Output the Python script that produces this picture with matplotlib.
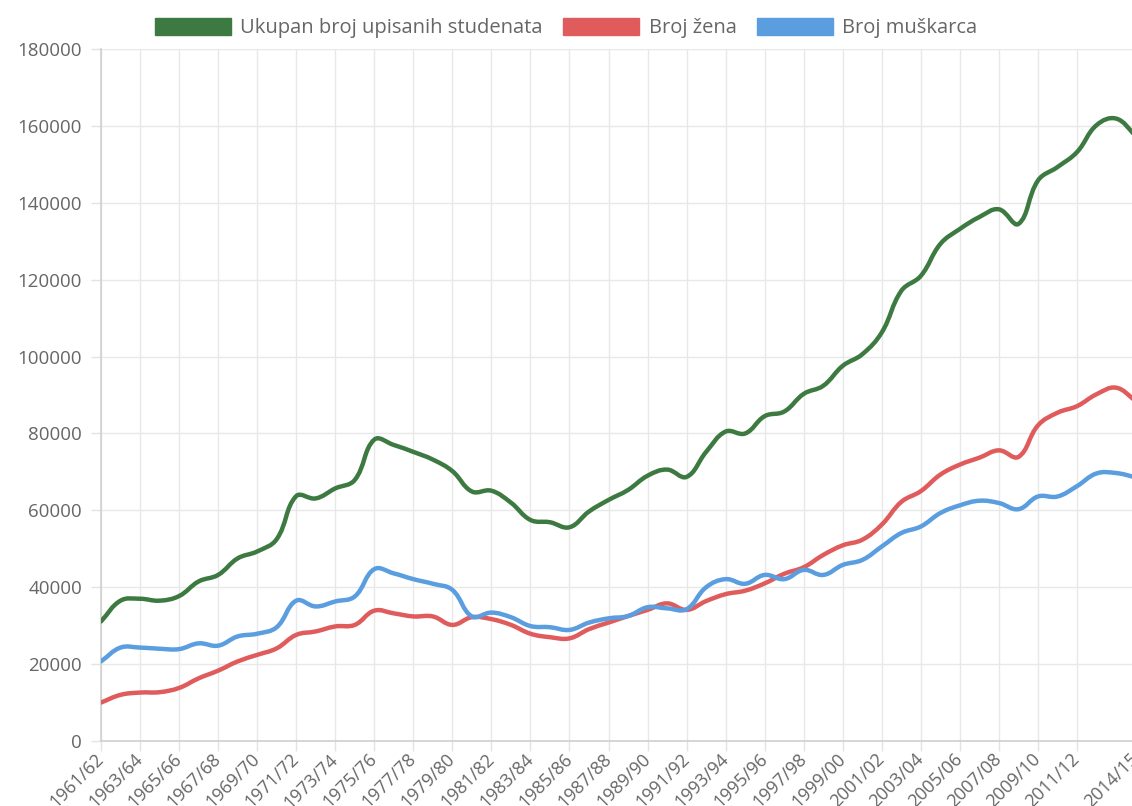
import numpy as np
import matplotlib
matplotlib.use("Agg")
import matplotlib.pyplot as plt
from matplotlib.path import Path
from matplotlib.patches import PathPatch, Patch

plt.rcParams["font.family"] = ["Open Sans", "DejaVu Sans"]

# academic years 1961/62 .. 2014/15
godine = [f"{y}/{str(y + 1)[-2:]}" for y in range(1961, 2015)]

ukupno = [31100, 36500, 37000, 36500, 37700, 41500, 43200, 47500, 49300, 52500,
          63700, 63100, 65700, 67900, 78400, 77000, 75200, 73200, 70200, 64900,
          65100, 62000, 57500, 56900, 55600, 59700, 62700, 65300, 69000, 70600,
          68700, 75200, 80500, 80000, 84500, 85700, 90300, 92400, 97600, 100600,
          106300, 117100, 121000, 129300, 133200, 136300, 138300, 134500, 145800, 149300,
          153200, 160200, 161900, 157500]

zene = [10000, 12000, 12600, 12700, 13800, 16300, 18300, 20700, 22400, 24100,
        27600, 28500, 29800, 30200, 33900, 33200, 32400, 32400, 30200, 32200,
        31700, 30200, 27900, 27000, 26700, 29100, 30800, 32500, 34100, 35800,
        34100, 36400, 38200, 39100, 41000, 43500, 45200, 48400, 50900, 52350,
        56300, 62200, 65000, 69300, 71900, 73700, 75600, 73900, 82100, 85400,
        87100, 90200, 91900, 88500]

muskarci = [20700, 24300, 24300, 24000, 23900, 25400, 24800, 27200, 27900, 29600,
            36500, 35000, 36300, 37600, 44700, 43600, 42100, 40900, 39300, 32400,
            33400, 32200, 29900, 29600, 28900, 30800, 31900, 32500, 34800, 34500,
            34300, 40000, 42100, 40900, 43200, 42100, 44500, 43200, 45800, 47100,
            50600, 54100, 55800, 59300, 61300, 62500, 61900, 60300, 63600, 63600,
            66300, 69600, 69700, 68600]

serije = [
    ("Ukupan broj upisanih studenata", ukupno, "#3d7a41"),
    ("Broj žena", zene, "#e05c5c"),
    ("Broj muškarca", muskarci, "#5a9ee0"),
]


def spline_path(x, y, sx, sy, t=0.4):
    """Cubic bezier through the points, control points as in chart.js (tension t).
    sx, sy convert data units to pixels so the curve is built in screen space."""
    px = np.asarray(x, float) * sx
    py = np.asarray(y, float) * sy
    n = len(px)
    prev_cp = np.zeros((n, 2))
    next_cp = np.zeros((n, 2))
    for i in range(n):
        a, b = max(i - 1, 0), min(i + 1, n - 1)
        d01 = np.hypot(px[i] - px[a], py[i] - py[a])
        d12 = np.hypot(px[b] - px[i], py[b] - py[i])
        tot = d01 + d12
        s01 = d01 / tot if tot else 0.0
        s12 = d12 / tot if tot else 0.0
        dx, dy = px[b] - px[a], py[b] - py[a]
        prev_cp[i] = px[i] - t * s01 * dx, py[i] - t * s01 * dy
        next_cp[i] = px[i] + t * s12 * dx, py[i] + t * s12 * dy
    verts = [(px[0], py[0])]
    codes = [Path.MOVETO]
    for i in range(1, n):
        verts += [tuple(next_cp[i - 1]), tuple(prev_cp[i]), (px[i], py[i])]
        codes += [Path.CURVE4] * 3
    verts = np.array(verts) / [sx, sy]
    return Path(verts, codes)


W, H = 1132, 806
fig = plt.figure(figsize=(W / 100, H / 100), dpi=100)
ax = fig.add_axes([101 / W, 1 - 741 / H, 1034.6 / W, 692 / H])

x = np.arange(len(godine))
ymax = 180000
sx = 1034.6 / (len(godine) - 1)
sy = 692 / ymax

for naziv, vals, boja in serije:
    ax.add_patch(PathPatch(spline_path(x, vals, sx, sy), fill=False, edgecolor=boja,
                           lw=3.2, capstyle="round", joinstyle="round", zorder=3))

ax.set_xlim(0, len(godine) - 1)
ax.set_ylim(0, ymax)

xt = list(range(0, 51, 2)) + [len(godine) - 1]
ax.set_xticks(xt)
ax.set_xticklabels([godine[i] for i in xt], rotation=45, ha="right",
                   va="center", rotation_mode="anchor")
ax.set_yticks(np.arange(0, ymax + 1, 20000))
ax.set_yticklabels([str(v) for v in range(0, ymax + 1, 20000)])

ax.grid(True, color="#e8e8e8", lw=1, zorder=0)
ax.tick_params(axis="both", length=7.2, width=1, color="#e3e3e3",
               labelcolor="#666666", labelsize=13.5)
ax.tick_params(axis="y", pad=6.5)
ax.tick_params(axis="x", pad=4, labelsize=13)
for s in ("top", "right"):
    ax.spines[s].set_visible(False)
for s in ("left", "bottom"):
    ax.spines[s].set_color("#cfcfcf")
    ax.spines[s].set_linewidth(1.2)

handles = [Patch(facecolor=b, edgecolor=b, lw=1) for _, _, b in serije]
fig.legend(handles, [n for n, _, _ in serije], loc="center",
           bbox_to_anchor=(0.5, 1 - 28 / H), ncol=3, frameon=False,
           fontsize=14.5, labelcolor="#666666", handlelength=3.8, handleheight=0.95,
           handletextpad=0.45, columnspacing=1.0, borderpad=0)

fig.savefig("out.png", dpi=100)
